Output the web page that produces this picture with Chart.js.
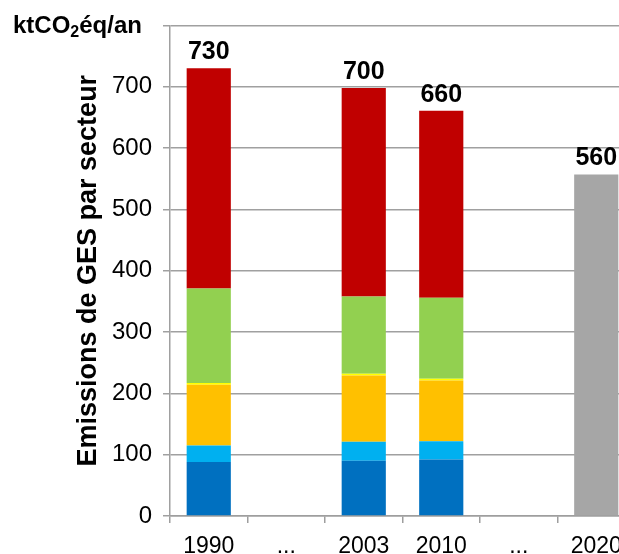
<!DOCTYPE html>
<html>
<head>
<meta charset="utf-8">
<script src="https://cdn.jsdelivr.net/npm/chart.js@4/dist/chart.umd.min.js"></script>
<style>
    html, body { margin: 0; padding: 0; background: #fff; overflow: hidden; }
    #wrap { width: 619px; height: 554px; overflow: hidden; }
</style>
</head>
<body>
<div id="wrap"><canvas id="ges" width="650" height="580"></canvas></div>
<script>
// ktCO2éq/an par secteur
const years = ["1990", "...", "2003", "2010", "...", "2020"];
const sectorBlue = [88, null, 90, 92, null, null];
const sectorCyan = [27, null, 31, 30, null, null];
const sectorOrange = [99, null, 108, 99, null, null];
const sectorYellow = [3, null, 3, 3, null, null];
const sectorGreen = [154, null, 126, 132, null, null];
const sectorRed = [359, null, 340, 305, null, null];
const objective = [null, null, null, null, null, 557];
const totalLabels = ["730", "", "700", "660", "", "560"];
const yTicks = [0, 100, 200, 300, 400, 500, 600, 700, 800];

Chart.defaults.font.family = '"Liberation Sans", Arial, sans-serif';
Chart.defaults.color = "#000";

const totalsPlugin = {
    id: "totals",
    afterDatasetsDraw(chart) {
        const ctx = chart.ctx;
        const x = chart.scales.x;
        const y = chart.scales.y;
        ctx.save();
        ctx.font = 'bold 25px "Liberation Sans", Arial, sans-serif';
        ctx.fillStyle = "#000";
        ctx.textAlign = "center";
        ctx.textBaseline = "alphabetic";
        years.forEach((yr, i) => {
            if (!totalLabels[i]) return;
            let sum = 0;
            chart.data.datasets.forEach((ds) => { sum += ds.data[i] || 0; });
            ctx.fillText(totalLabels[i], x.getPixelForValue(i), y.getPixelForValue(sum) - 9);
        });
        ctx.restore();
    },
};

const unitPlugin = {
    id: "unit",
    afterDraw(chart) {
        const ctx = chart.ctx;
        ctx.save();
        ctx.fillStyle = "#000";
        ctx.textBaseline = "alphabetic";
        ctx.textAlign = "left";
        let px = 13;
        ctx.font = 'bold 24px "Liberation Sans", Arial, sans-serif';
        ctx.fillText("ktCO", px, 33);
        px += ctx.measureText("ktCO").width;
        ctx.font = 'bold 16px "Liberation Sans", Arial, sans-serif';
        ctx.fillText("2", px, 37);
        px += ctx.measureText("2").width;
        ctx.font = 'bold 24px "Liberation Sans", Arial, sans-serif';
        ctx.fillText("éq/an", px, 33);
        ctx.restore();
    },
};

const mk = (label, data, color) => ({
    label: label,
    data: data,
    backgroundColor: color,
    borderWidth: 0,
    stack: "s",
});

new Chart(document.getElementById("ges"), {
    type: "bar",
    data: {
        labels: years,
        datasets: [
            mk("bleu", sectorBlue, "#0070C0"),
            mk("cyan", sectorCyan, "#00B0F0"),
            mk("orange", sectorOrange, "#FFC000"),
            mk("jaune", sectorYellow, "#FFFF00"),
            mk("vert", sectorGreen, "#92D050"),
            mk("rouge", sectorRed, "#C00000"),
            mk("objectif", objective, "#A6A6A6"),
        ],
    },
    options: {
        responsive: false,
        animation: false,
        categoryPercentage: 1,
        barPercentage: 0.57,
        layout: { padding: { top: 24, right: 15, left: 0, bottom: 0 } },
        plugins: {
            legend: { display: false },
            tooltip: { enabled: false },
        },
        scales: {
            x: {
                stacked: true,
                afterFit: (s) => { s.height = 64; },
                grid: {
                    drawOnChartArea: false,
                    color: "#9E9E9E",
                    tickLength: 7,
                    lineWidth: 1.5,
                },
                border: { color: "#9E9E9E", width: 1.5 },
                ticks: { font: { size: 23 }, padding: 10, maxRotation: 0, autoSkip: false },
            },
            y: {
                stacked: true,
                min: 0,
                max: 800,
                afterFit: (s) => { s.width = 170; },
                afterBuildTicks: (s) => { s.ticks = yTicks.map((v) => ({ value: v })); },
                grid: { color: "#A0A0A0", lineWidth: 1.5, tickLength: 7 },
                border: { color: "#A0A0A0", width: 1.5 },
                ticks: {
                    font: { size: 24 },
                    padding: 11,
                    callback: (v) => (v === 800 ? "" : v),
                },
                title: {
                    display: true,
                    text: "Emissions de GES par secteur",
                    font: { size: 27, weight: "bold" },
                    padding: { top: 72, bottom: 0 },
                },
            },
        },
    },
    plugins: [totalsPlugin, unitPlugin],
});
</script>
</body>
</html>
